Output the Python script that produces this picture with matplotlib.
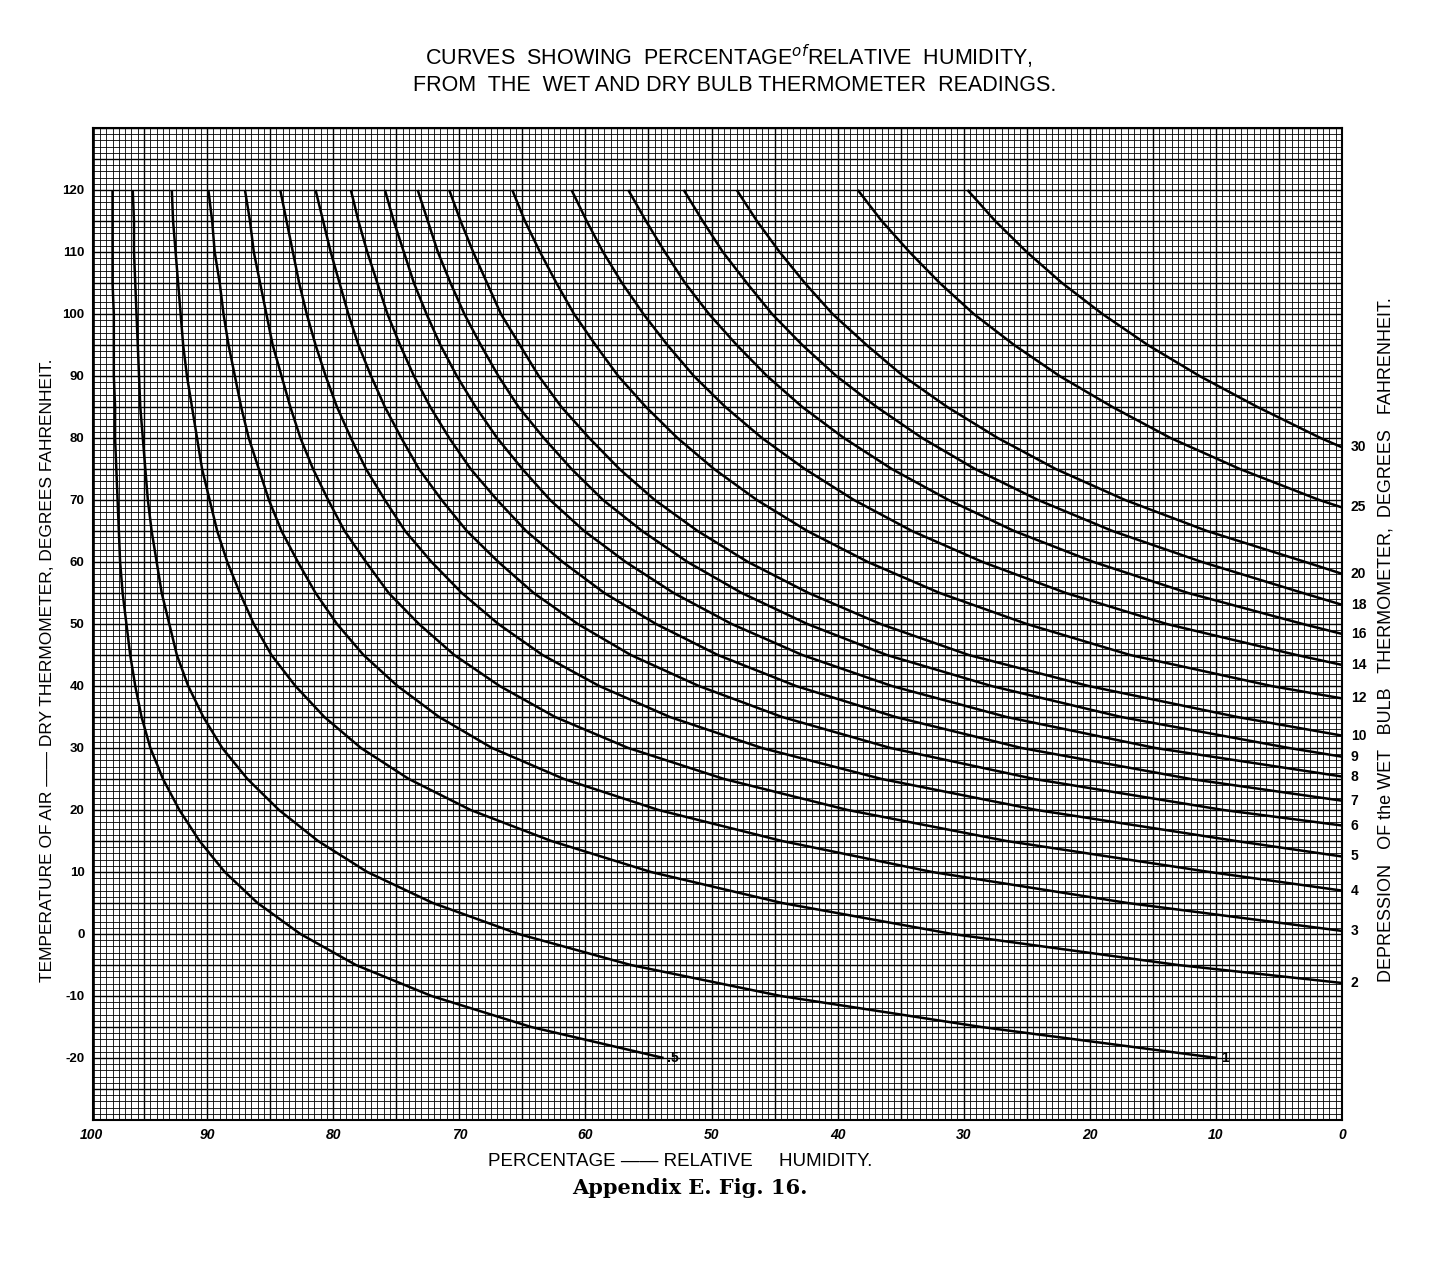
#!/usr/bin/env python
# -*- coding: utf-8 -*-
"""Relative humidity from wet and dry bulb readings (Appendix E, Fig. 16)."""

import numpy as np
import matplotlib
matplotlib.use("Agg")
import matplotlib.pyplot as plt

plt.rcParams['font.family'] = ['Liberation Sans', 'DejaVu Sans']

# dry bulb temperature levels (deg F) at which each curve was read
temps = [120, 115, 110, 105, 100, 95, 90, 85, 80, 75, 70, 65, 60, 55, 50,
         45, 40, 35, 30, 25, 20, 15, 10, 5, 0, -5, -10, -15, -20]

# percentage relative humidity
rh_05 = [97.5, 97.5, 97.5, 97.5, 97.4, 97.4, 97.4, 97.3, 97.3, 97.2, 97.1, 97.0,
         96.9, 96.7, 96.4, 96.1, 95.7, 95.2, 94.5, 93.5, 92.2, 90.6, 88.6, 86.0,
         82.6, 78.2, 72.2, 64.3, 53.8]
rh_1 = [95.9, 95.8, 95.8, 95.7, 95.6, 95.5, 95.4, 95.3, 95.1, 94.9, 94.7, 94.4,
        94.0, 93.6, 93.0, 92.4, 91.5, 90.3, 88.8, 86.8, 84.3, 81.2, 77.3, 72.1,
        65.3, 56.4, 44.5, 28.6, 9.9]
rh_2 = [92.8, 92.7, 92.5, 92.3, 92.1, 91.9, 91.6, 91.2, 90.8, 90.4, 89.8, 89.2,
        88.4, 87.4, 86.3, 84.9, 83.0, 80.7, 77.8, 74.0, 69.1, 62.7, 54.8, 44.4,
        30.9, 13.0]
rh_3 = [89.9, 89.6, 89.4, 89.0, 88.7, 88.3, 87.8, 87.3, 86.7, 85.9, 85.1, 84.1,
        82.8, 81.4, 79.7, 77.6, 74.9, 71.6, 67.4, 61.7, 54.2, 44.4, 32.5, 17.0]
rh_4 = [87.0, 86.6, 86.3, 85.8, 85.3, 84.8, 84.1, 83.4, 82.6, 81.6, 80.4, 79.1,
        77.4, 75.6, 73.2, 70.4, 66.8, 62.4, 56.6, 49.0, 39.2, 26.6, 10.5]
rh_5 = [84.2, 83.7, 83.2, 82.7, 82.1, 81.4, 80.6, 79.7, 78.6, 77.4, 75.9, 74.3,
        72.2, 69.8, 66.9, 63.4, 58.9, 53.3, 46.0, 36.5, 24.2, 8.4]
rh_6 = [81.4, 80.8, 80.2, 79.5, 78.8, 78.0, 77.0, 75.9, 74.6, 73.2, 71.4, 69.4,
        66.9, 64.1, 60.6, 56.4, 51.0, 44.4, 35.8, 24.4, 9.4]
rh_7 = [78.6, 78.0, 77.3, 76.5, 75.7, 74.7, 73.6, 72.3, 70.8, 69.1, 67.0, 64.7,
        61.8, 58.5, 54.4, 49.5, 43.3, 35.4, 25.4, 12.0]
rh_8 = [75.9, 75.2, 74.4, 73.6, 72.6, 71.5, 70.2, 68.7, 67.0, 65.0, 62.8, 60.1,
        56.8, 53.0, 48.4, 42.8, 35.7, 26.6, 14.8]
rh_9 = [73.3, 72.5, 71.7, 70.7, 69.6, 68.3, 66.9, 65.3, 63.3, 61.1, 58.6, 55.5,
        51.9, 47.6, 42.4, 36.1, 27.8, 17.5, 4.2]
rh_10 = [70.8, 69.9, 68.9, 67.8, 66.7, 65.2, 63.7, 61.9, 59.7, 57.3, 54.5, 51.1,
         47.1, 42.3, 36.6, 29.6, 20.1, 8.3]
rh_12 = [65.8, 64.8, 63.6, 62.3, 60.9, 59.2, 57.4, 55.2, 52.7, 49.8, 46.4, 42.4,
         37.6, 31.9, 25.0, 16.8, 5.6]
rh_14 = [61.1, 59.9, 58.6, 57.1, 55.4, 53.5, 51.4, 48.9, 46.0, 42.6, 38.7, 34.1,
         28.5, 21.9, 13.9, 3.6]
rh_16 = [56.6, 55.2, 53.7, 52.1, 50.2, 48.0, 45.6, 42.8, 39.5, 35.7, 31.2, 26.0,
         19.7, 12.2, 3.1]
rh_18 = [52.2, 50.7, 49.1, 47.2, 45.2, 42.8, 40.1, 36.9, 33.3, 29.1, 24.1, 18.2,
         11.1, 3.1]
rh_20 = [48.0, 46.4, 44.6, 42.6, 40.4, 37.7, 34.8, 31.3, 27.3, 22.7, 17.2, 10.7,
         2.9]
rh_25 = [38.4, 36.5, 34.3, 31.9, 29.2, 26.0, 22.4, 18.2, 13.6, 8.1, 1.8]
rh_30 = [29.7, 27.5, 25.0, 22.2, 19.0, 15.4, 11.3, 6.7, 1.7]

depressions = ['.5', '1', '2', '3', '4', '5', '6', '7', '8', '9', '10',
               '12', '14', '16', '18', '20', '25', '30']
curves = [rh_05, rh_1, rh_2, rh_3, rh_4, rh_5, rh_6, rh_7, rh_8, rh_9, rh_10,
          rh_12, rh_14, rh_16, rh_18, rh_20, rh_25, rh_30]
# dry bulb temperature where each curve meets the 0 % edge (None: ends inside)
end_temps = [None, None, -7.9, 0.5, 7.0, 12.5, 17.5, 21.5, 25.4, 28.6, 32.0,
             38.0, 43.4, 48.4, 53.1, 58.1, 68.8, 78.5]

x_ticks = [90, 80, 70, 60, 50, 40, 30, 20, 10, 0]
y_ticks = [120, 110, 100, 90, 80, 70, 60, 50, 40, 30, 20, 10, 0, -10, -20]
X_LEFT = 99.05   # the ruled sheet stops just short of 100 %

W, H = 1433, 1262
fig = plt.figure(figsize=(W / 100, H / 100), dpi=100)
fig.patch.set_facecolor('white')
ax = fig.add_axes([93 / W, 1 - 1120 / H, (1342 - 93) / W, (1120 - 128) / H])
ax.set_xlim(X_LEFT, 0)
ax.set_ylim(-30, 130)

# ruled paper
for v in np.arange(0, 99.01, 0.5):
    heavy = abs(v / 5 - round(v / 5)) < 1e-6
    ax.axvline(v, color='black', lw=1.0 if heavy else 0.6, zorder=1)
for h in np.arange(-30, 130.01, 1):
    heavy = abs(h / 5 - round(h / 5)) < 1e-6
    ax.axhline(h, color='black', lw=1.0 if heavy else 0.6, zorder=1)

# humidity curves
for lab, rh, t_end in zip(depressions, curves, end_temps):
    xs = list(rh)
    ys = temps[:len(rh)]
    if t_end is not None:
        xs = xs + [0]
        ys = ys + [t_end]
        ax.text(-0.7, t_end, lab, ha='left', va='center', fontsize=10,
                fontweight='bold', clip_on=False)
    else:
        ax.text(xs[-1] - 0.3, ys[-1], lab, ha='left', va='center',
                fontsize=10, fontweight='bold')
    ax.plot(xs, ys, color='black', lw=1.8, zorder=3, solid_capstyle='butt',
            solid_joinstyle='round')

ax.set_xticks(x_ticks)
ax.set_xticklabels([str(v) for v in x_ticks], fontsize=10, fontweight='bold',
                   style='italic')
ax.annotate('100', xy=(X_LEFT, 0), xycoords=('data', 'axes fraction'),
            xytext=(-1, -6), textcoords='offset points', ha='center', va='top',
            fontsize=10, fontweight='bold', style='italic')
ax.set_yticks(y_ticks)
ax.set_yticklabels([str(v) for v in y_ticks], fontsize=9.5, fontweight='bold')
ax.tick_params(length=0, pad=6)
for s in ax.spines.values():
    s.set_linewidth(1.5)

fig.text(0.509, 0.955, 'CURVES  SHOWING  PERCENTAGE$^{of}$RELATIVE  HUMIDITY,',
         ha='center', va='center', fontsize=15.5)
fig.text(0.513, 0.932, 'FROM  THE  WET AND DRY BULB THERMOMETER  READINGS.',
         ha='center', va='center', fontsize=15.5)
fig.text(48 / W, 1 - 670 / H,
         'TEMPERATURE OF AIR —— DRY THERMOMETER, DEGREES FAHRENHEIT.',
         rotation=90, ha='center', va='center', fontsize=12.5)
fig.text(1386 / W, 1 - 640 / H,
         'DEPRESSION   OF the WET   BULB   THERMOMETER,  DEGREES   FAHRENHEIT.',
         rotation=90, ha='center', va='center', fontsize=13)
fig.text(680 / W, 1 - 1161 / H, 'PERCENTAGE —— RELATIVE     HUMIDITY.',
         ha='center', va='center', fontsize=13.5)
fig.text(690 / W, 1 - 1188 / H, 'Appendix E. Fig. 16.', ha='center',
         va='center', fontsize=15, family='DejaVu Serif', fontweight='bold')

fig.savefig('out.png', dpi=100, facecolor='white')
